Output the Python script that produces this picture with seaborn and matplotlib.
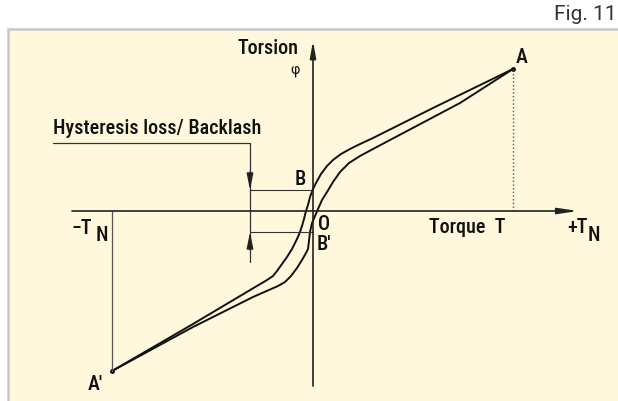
import matplotlib.pyplot as plt
import seaborn as sns
import pandas as pd
from matplotlib.patches import Rectangle

# torque in units of T_N, torsion on the same scale
torque_upper = [1.000, 0.600, 0.300, 0.225, 0.185, 0.140, 0.100, 0.070, 0.040, 0.015,
                0.000, -0.015, -0.025, -0.035, -0.045, -0.055, -0.065, -0.080, -0.105,
                -0.130, -0.155, -0.180, -0.200, -0.230, -0.600, -1.005]
torsion_upper = [0.710, 0.515, 0.365, 0.330, 0.310, 0.285, 0.255, 0.225, 0.185, 0.140,
                 0.110, 0.070, 0.030, 0.000, -0.040, -0.075, -0.105, -0.140, -0.190,
                 -0.230, -0.265, -0.300, -0.325, -0.345, -0.565, -0.800]

torque_lower = [-1.005, -0.600, -0.300, -0.175, -0.140, -0.110, -0.080, -0.055, -0.035,
                -0.025, -0.020, -0.015, -0.005, 0.010, 0.025, 0.045, 0.070, 0.100, 0.135,
                0.180, 0.235, 0.300, 0.735, 1.000]
torsion_lower = [-0.800, -0.580, -0.430, -0.375, -0.355, -0.325, -0.285, -0.245, -0.210,
                 -0.190, -0.150, -0.105, -0.060, -0.025, 0.010, 0.055, 0.095, 0.145, 0.195,
                 0.240, 0.275, 0.310, 0.540, 0.710]

point_A = (1.000, 0.710)
point_A2 = (-1.005, -0.800)
phi_B = 0.105
phi_B2 = -0.105

df = pd.concat([
    pd.DataFrame({'torque': torque_upper, 'torsion': torsion_upper, 'branch': 'upper'}),
    pd.DataFrame({'torque': torque_lower, 'torsion': torsion_lower, 'branch': 'lower'}),
])

sns.set_theme(style="white")
label_font = ['Roboto Condensed', 'DejaVu Sans']
plt.rcParams['font.family'] = label_font

fig = plt.figure(figsize=(6.18, 4.02), dpi=100)
ax = fig.add_axes([0, 0, 1, 1])
ax.set_xlim(-1.565, 1.525)
ax.set_ylim(-0.95, 1.06)
ax.axis('off')

# cream panel
ax.add_patch(Rectangle((-1.525, -1.0), 3.2, 1.91, facecolor='#fff8dc',
                       edgecolor='#c8c8c8', lw=1.8, zorder=0))

ink = '#222222'
# axes with arrows
ax.annotate('', xy=(1.325, 0), xytext=(-1.205, 0),
            arrowprops=dict(arrowstyle='-|>,head_length=1.2,head_width=0.18',
                            color=ink, lw=1.2, mutation_scale=10, shrinkA=0, shrinkB=0))
ax.annotate('', xy=(0, 0.85), xytext=(0, -0.875),
            arrowprops=dict(arrowstyle='-|>,head_length=1.0,head_width=0.18',
                            color=ink, lw=1.2, mutation_scale=10, shrinkA=0, shrinkB=0))

# hysteresis loop
sns.lineplot(data=df, x='torque', y='torsion', units='branch', estimator=None,
             sort=False, color='#111111', lw=1.4, ax=ax, legend=False)
ax.plot(*point_A, 'o', color='#111111', ms=2.5)
ax.plot(*point_A2, 'o', color='#111111', ms=2.5)

# reference lines at +T_N / -T_N
ax.plot([point_A[0], point_A[0]], [0, point_A[1]], ls=':', color='#555555', lw=1.0)
ax.plot([point_A2[0], point_A2[0]], [0, point_A2[1]], color='#555555', lw=0.9)

# backlash annotation
ax.plot([-1.30, -0.315, -0.315], [0.34, 0.34, -0.255], color='#333333', lw=0.9)
ax.plot([-0.315, 0], [phi_B, phi_B], color='#333333', lw=0.8)
ax.plot([-0.315, 0], [phi_B2, phi_B2], color='#333333', lw=0.8)
ax.annotate('', xy=(-0.315, phi_B), xytext=(-0.315, phi_B + 0.09),
            arrowprops=dict(arrowstyle='-|>,head_length=1.0,head_width=0.2',
                            color=ink, lw=0.9, mutation_scale=10, shrinkA=0, shrinkB=0))
ax.annotate('', xy=(-0.315, phi_B2), xytext=(-0.315, phi_B2 - 0.09),
            arrowprops=dict(arrowstyle='-|>,head_length=1.0,head_width=0.2',
                            color=ink, lw=0.9, mutation_scale=10, shrinkA=0, shrinkB=0))

txt = dict(color='#111111', fontsize=14.5, va='center', weight='medium')
ax.text(-1.30, 0.415, 'Hysteresis loss/ Backlash', ha='left', **txt)
ax.text(-0.07, 0.815, 'Torsion', ha='right', **txt)
ax.text(-0.09, 0.71, 'φ', ha='center', color='#111111', fontsize=11, va='center')
ax.text(1.045, 0.77, 'A', ha='center', **txt)
ax.text(-0.065, 0.16, 'B', ha='center', **txt)
ax.text(0.055, -0.065, 'O', ha='center', **txt)
ax.text(0.02, -0.165, "B'", ha='left', **txt)
ax.text(-1.09, -0.865, "A'", ha='center', **txt)
ax.text(0.96, -0.08, 'Torque  T', ha='right', **txt)
ax.text(-1.205, -0.085, '−T', ha='left', **txt)
ax.text(-1.055, -0.12, 'N', ha='center', **txt)
ax.text(1.27, -0.08, '+T', ha='left', **txt)
ax.text(1.405, -0.12, 'N', ha='center', **txt)

fig.text(0.997, 0.963, 'Fig. 11', ha='right', va='center', fontsize=15,
         color='#333333', family=['Roboto', 'DejaVu Sans'])

fig.savefig('out.png', dpi=100)
